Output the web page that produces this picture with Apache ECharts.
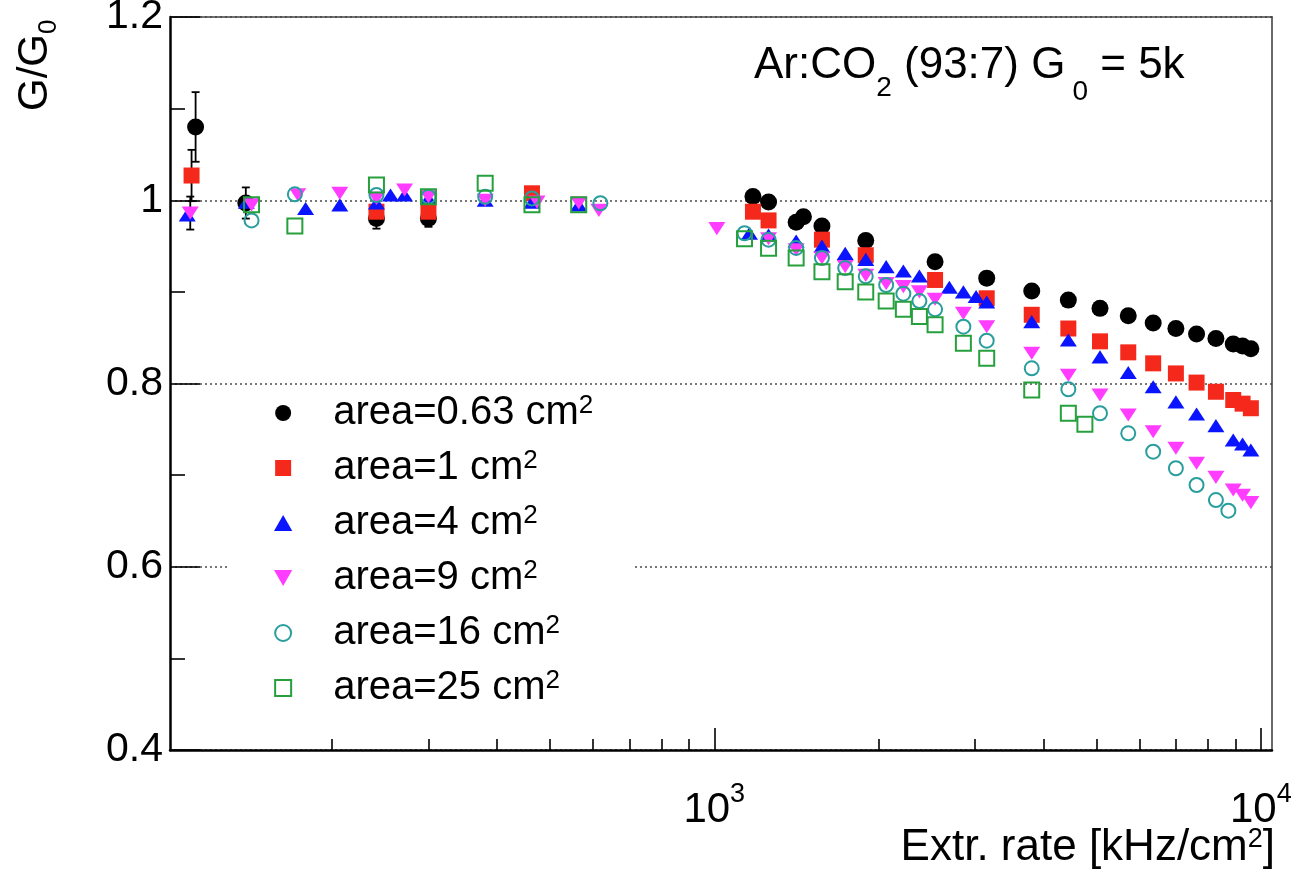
<!DOCTYPE html>
<html>
<head>
<meta charset="utf-8">
<script src="https://cdn.jsdelivr.net/npm/echarts@6/dist/echarts.min.js"></script>
<style>
html,body{margin:0;padding:0;background:#ffffff;}
#chart{width:1294px;height:869px;}
</style>
</head>
<body>
<div id="chart"></div>
<script>
// ---------------- data ----------------
const seriesNames = ['area=0.63 cm²', 'area=1 cm²', 'area=4 cm²', 'area=9 cm²', 'area=16 cm²', 'area=25 cm²'];

const rate063 = [112.5, 139, 241, 300, 1177, 1257, 1412, 1456, 1574, 1893, 2535, 3151, 3809, 4444, 5078, 5720, 6353, 6991, 7627, 8275, 8901, 9258, 9587];
const gain063 = [1.080, 0.997, 0.980, 0.980, 1.004, 0.998, 0.976, 0.982, 0.972, 0.956, 0.933, 0.915, 0.901, 0.891, 0.882, 0.874, 0.866, 0.860, 0.854, 0.849, 0.843, 0.841, 0.838];

const rate1 = [110.6, 241, 300, 464, 1177, 1257, 1574, 1893, 2535, 3151, 3809, 4444, 5078, 5720, 6353, 6991, 7627, 8275, 8901, 9258, 9587];
const gain1 = [1.027, 0.9875, 0.9875, 1.0076, 0.9875, 0.978, 0.957, 0.940, 0.913, 0.893, 0.875, 0.860, 0.846, 0.834, 0.822, 0.811, 0.801, 0.791, 0.782, 0.778, 0.773];

const rate4 = [108.6, 139.3, 178.8, 206.5, 241, 255.7, 271.3, 300, 381, 464, 565, 1160, 1257, 1412, 1574, 1736, 1893, 2063, 2218, 2373, 2692, 2856, 3013, 3151, 3809, 4444, 5078, 5720, 6353, 6991, 7627, 8275, 8901, 9258, 9587];
const gain4 = [0.984, 0.998, 0.991, 0.995, 0.997, 1.0057, 1.0057, 1.002, 1.000, 0.998, 0.995, 0.964, 0.962, 0.9555, 0.950, 0.942, 0.9355, 0.9275, 0.9228, 0.9173, 0.905, 0.900, 0.895, 0.889, 0.8675, 0.8475, 0.829, 0.812, 0.7965, 0.780, 0.7667, 0.754, 0.7383, 0.734, 0.7274];

const rate9 = [110, 142.4, 173, 206.5, 241, 271.3, 300, 381, 474, 565, 615, 1011, 1257, 1412, 1574, 1736, 1893, 2063, 2218, 2373, 2535, 2856, 3151, 3809, 4444, 5078, 5720, 6353, 6991, 7627, 8275, 8901, 9258, 9587];
const gain9 = [0.986, 0.995, 1.006, 1.0076, 1.002, 1.0112, 1.0037, 1.000, 0.998, 0.997, 0.989, 0.969, 0.958, 0.946, 0.937, 0.9275, 0.918, 0.909, 0.9057, 0.900, 0.892, 0.8766, 0.862, 0.833, 0.809, 0.7875, 0.7656, 0.7474, 0.7293, 0.7129, 0.6976, 0.6838, 0.678, 0.670];

const rate16 = [142.4, 170.9, 241, 300, 381, 464, 619, 1136, 1257, 1412, 1574, 1736, 1893, 2063, 2218, 2373, 2535, 2856, 3151, 3809, 4444, 5078, 5720, 6353, 6991, 7627, 8275, 8720];
const gain16 = [0.978, 1.0065, 1.0057, 1.0037, 1.0037, 1.002, 0.9967, 0.964, 0.957, 0.948, 0.937, 0.926, 0.917, 0.9075, 0.898, 0.890, 0.881, 0.862, 0.8467, 0.8166, 0.7937, 0.7675, 0.7456, 0.7256, 0.7075, 0.6892, 0.6728, 0.6612];

const rate25 = [142.4, 170.9, 241, 300, 381, 464, 565, 1136, 1257, 1412, 1574, 1736, 1893, 2063, 2218, 2373, 2535, 2856, 3151, 3809, 4444, 4765];
const gain25 = [0.995, 0.972, 1.0166, 1.0037, 1.0185, 0.995, 0.995, 0.958, 0.9475, 0.937, 0.922, 0.911, 0.900, 0.890, 0.881, 0.873, 0.864, 0.844, 0.8275, 0.793, 0.7675, 0.7555];

// error bars (visible ones only)
const errRate = [112.5, 110.6, 110, 139, 241, 300];
const errGain = [1.080, 1.027, 0.986, 0.997, 0.980, 0.980];
const errSize = [0.038, 0.028, 0.018, 0.017, 0.011, 0.009];

const xMajorTicks = [1000, 10000];
const xMinorTicks = [200, 300, 400, 500, 600, 700, 800, 900, 2000, 3000, 4000, 5000, 6000, 7000, 8000, 9000];

// ---------------- styling ----------------
const FONT = "'Liberation Sans', Arial, Helvetica, sans-serif";
const SQUARE = 'path://M0,0L10,0L10,10L0,10Z';
const rates = [rate063, rate1, rate4, rate9, rate16, rate25];
const gains = [gain063, gain1, gain4, gain9, gain16, gain25];
const markerStyles = [
  { symbol: 'circle', symbolSize: 17, itemStyle: { color: '#000000', opacity: 1 } },
  { symbol: SQUARE, symbolSize: 16, itemStyle: { color: '#f5281c', opacity: 1 } },
  { symbol: 'path://M8,0L16,14L0,14Z', symbolSize: [17, 15], itemStyle: { color: '#0a14ff', opacity: 1 } },
  { symbol: 'path://M0,0L16,0L8,14Z', symbolSize: [17, 15], itemStyle: { color: '#ff3cff', opacity: 1 } },
  { symbol: 'circle', symbolSize: 14, itemStyle: { color: 'rgba(255,255,255,0)', borderColor: '#2a9d9d', borderWidth: 2, opacity: 1 } },
  { symbol: SQUARE, symbolSize: 15, itemStyle: { color: 'rgba(255,255,255,0)', borderColor: '#26a03c', borderWidth: 2, opacity: 1 } }
];

const scatterSeries = seriesNames.map((name, i) => Object.assign({
  name: name,
  type: 'scatter',
  xAxisIndex: 0,
  yAxisIndex: 0,
  z: 3,
  data: rates[i].map((r, j) => [r, gains[i][j]]),
  emphasis: { disabled: true },
  symbolKeepAspect: true
}, markerStyles[i]));

const errorSeries = {
  name: 'errors',
  type: 'custom',
  xAxisIndex: 0,
  yAxisIndex: 0,
  z: 2,
  silent: true,
  data: errRate.map((r, i) => [r, errGain[i] - errSize[i], errGain[i] + errSize[i]]),
  renderItem: function (params, api) {
    const x = api.value(0);
    const lo = api.coord([x, api.value(1)]);
    const hi = api.coord([x, api.value(2)]);
    const cap = 4;
    const st = { stroke: '#000', lineWidth: 1.8 };
    return {
      type: 'group',
      children: [
        { type: 'line', shape: { x1: lo[0], y1: lo[1], x2: hi[0], y2: hi[1] }, style: st },
        { type: 'line', shape: { x1: lo[0] - cap, y1: lo[1], x2: lo[0] + cap, y2: lo[1] }, style: st },
        { type: 'line', shape: { x1: hi[0] - cap, y1: hi[1], x2: hi[0] + cap, y2: hi[1] }, style: st }
      ]
    };
  }
};

const X_MIN = 101, X_MAX = 10480;

const option = {
  animation: false,
  backgroundColor: '#ffffff',
  textStyle: { fontFamily: FONT, color: '#000' },
  grid: { left: 170, right: 22, top: 17, bottom: 119, containLabel: false, outerBoundsMode: 'none' },
  title: {
    left: 754,
    top: 44,
    padding: 0,
    text: '{b|Ar:CO}{s|2}{b| (93:7) G}{z|0}{b| = 5k}',
    textStyle: {
      fontWeight: 'normal',
      rich: {
        b: { fontFamily: FONT, fontSize: 44, fontWeight: 'normal', color: '#000', verticalAlign: 'top' },
        s: { fontFamily: FONT, fontSize: 28, fontWeight: 'normal', color: '#000', verticalAlign: 'top', padding: [30, 0, 0, 0] },
        z: { fontFamily: FONT, fontSize: 28, fontWeight: 'normal', color: '#000', verticalAlign: 'top', padding: [34, 0, 0, 7] }
      }
    }
  },
  legend: {
    show: true,
    orient: 'vertical',
    left: 230,
    top: 391,
    padding: [2, 40, 4, 44],
    itemGap: 15,
    itemWidth: 90,
    itemHeight: 16,
    symbolKeepAspect: true,
    backgroundColor: '#ffffff',
    selectedMode: false,
    data: seriesNames,
    formatter: function (name) {
      return '{b|' + name.replace('²', '') + '}{s|2}';
    },
    textStyle: {
      rich: {
        b: { fontFamily: FONT, fontSize: 40, color: '#000', verticalAlign: 'top' },
        s: { fontFamily: FONT, fontSize: 26, color: '#000', verticalAlign: 'top' }
      }
    }
  },
  xAxis: [
    {
      type: 'log', logBase: 10, min: X_MIN, max: X_MAX, position: 'bottom', gridIndex: 0,
      axisLine: { show: true, onZero: false, lineStyle: { color: '#000', width: 2.5 } },
      axisTick: { show: true, inside: true, length: 22, lineStyle: { color: '#000', width: 1.6 }, customValues: xMajorTicks },
      minorTick: { show: false },
      axisLabel: {
        show: true, customValues: xMajorTicks, margin: 10,
        formatter: function (v) { return '{b|10}{s|' + Math.round(Math.log10(v)) + '}'; },
        rich: {
          b: { fontFamily: FONT, fontSize: 42, color: '#000', verticalAlign: 'top', padding: [29, 0, 0, 0] },
          s: { fontFamily: FONT, fontSize: 27, color: '#000', verticalAlign: 'top', padding: [21, 0, 0, 0] }
        }
      },
      splitLine: { show: false }
    },
    {
      type: 'log', logBase: 10, min: X_MIN, max: X_MAX, position: 'bottom', gridIndex: 0,
      axisLine: { show: false, onZero: false },
      axisTick: { show: true, inside: true, length: 11, lineStyle: { color: '#000', width: 1.6 }, customValues: xMinorTicks },
      axisLabel: { show: false },
      splitLine: { show: false }
    },
    {
      type: 'log', logBase: 10, min: X_MIN, max: X_MAX, position: 'top', gridIndex: 0,
      axisLine: { show: true, onZero: false, lineStyle: { color: '#444', width: 1.6 } },
      axisTick: { show: false },
      axisLabel: { show: false },
      splitLine: { show: false }
    }
  ],
  yAxis: [
    {
      type: 'value', min: 0.4, max: 1.2, interval: 0.2, position: 'left', gridIndex: 0,
      axisLine: { show: true, onZero: false, lineStyle: { color: '#000', width: 2.5 } },
      axisTick: { show: true, inside: true, length: 30, lineStyle: { color: '#000', width: 1.6 } },
      minorTick: { show: true, splitNumber: 2, length: 15, lineStyle: { color: '#000', width: 1.6 } },
      axisLabel: { show: true, fontFamily: FONT, fontSize: 41, color: '#000', margin: 7 },
      splitLine: { show: true, lineStyle: { color: '#777', width: 2, type: [2, 3] } }
    },
    {
      type: 'value', min: 0.4, max: 1.2, position: 'right', gridIndex: 0,
      axisLine: { show: true, onZero: false, lineStyle: { color: '#444', width: 1.6 } },
      axisTick: { show: false },
      axisLabel: { show: false },
      splitLine: { show: false }
    }
  ],
  graphic: [
    {
      type: 'text', x: 38, y: 111, rotation: Math.PI / 2,
      style: {
        text: '{b|G/G}{s|0}',
        align: 'left', verticalAlign: 'middle',
        rich: {
          b: { fontFamily: FONT, fontSize: 42, fill: '#000', verticalAlign: 'top' },
          s: { fontFamily: FONT, fontSize: 26, fill: '#000', verticalAlign: 'top', padding: [21, 0, 0, 0] }
        }
      }
    },
    {
      type: 'text', x: 1275, y: 848,
      style: {
        text: '{b|Extr. rate [kHz/cm}{s|2}{b|]}',
        align: 'right', verticalAlign: 'middle',
        rich: {
          b: { fontFamily: FONT, fontSize: 44, fill: '#000', verticalAlign: 'top' },
          s: { fontFamily: FONT, fontSize: 27, fill: '#000', verticalAlign: 'top' }
        }
      }
    }
  ],
  series: [errorSeries].concat(scatterSeries)
};

const chart = echarts.init(document.getElementById('chart'), null, { renderer: 'canvas' });
chart.setOption(option);
</script>
</body>
</html>
